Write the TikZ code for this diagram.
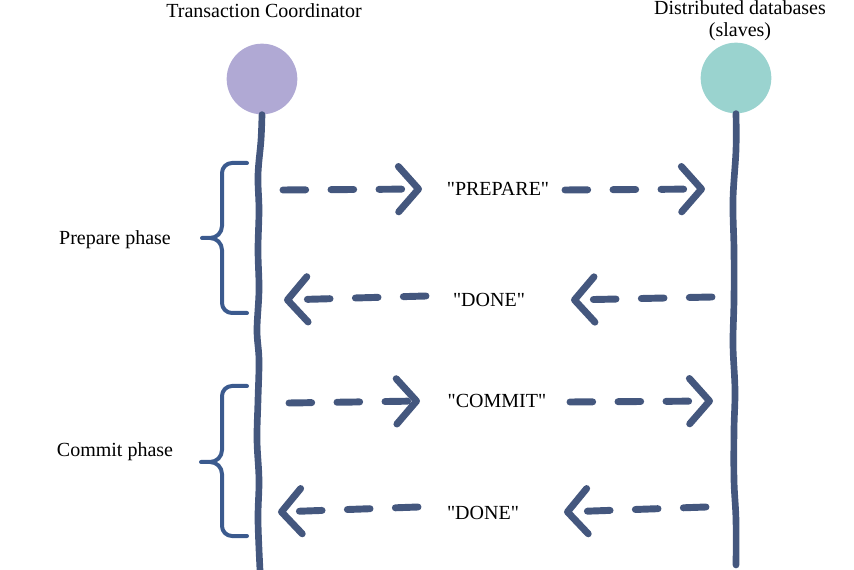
\documentclass[tikz,border=0pt]{standalone}
\usepackage{fontspec}
\setmainfont{Liberation Serif}[Ligatures=TeXOff]
\usetikzlibrary{arrows.meta}
\definecolor{tccol}{HTML}{B0A9D4}
\definecolor{dbcol}{HTML}{9AD3CF}
\definecolor{linecol}{HTML}{44577E}
\definecolor{bracecol}{HTML}{3B5A8E}
\begin{document}
\begin{tikzpicture}[x=0.75pt,y=-0.75pt,
  lbl/.style={font=\fontsize{15}{16.5}\selectfont, inner sep=0pt, text=black},
  actor/.style={circle, minimum size=53pt, inner sep=0pt},
  lifeline/.style={draw=linecol, line width=5pt, line cap=round, line join=round},
  msg/.style={draw=linecol, line width=5.2pt, line cap=round, dash pattern=on 17pt off 19pt,
    -{Straight Barb[length=15pt,width=34pt,round]}},
  brace/.style={draw=bracecol, line width=3pt, line cap=round, line join=round}]
\useasboundingbox (0,0) rectangle (854,570);

% actors
\node[actor, fill=tccol] (tc) at (262,79) {};
\node[actor, fill=dbcol] (db) at (736,78) {};
\node[lbl] (tctitle) at (264,11) {Transaction Coordinator};
\node[lbl, align=center] (dbtitle) at (740,21) {Distributed databases\\(slaves)};

% lifelines
\coordinate (tcend) at (260,570);
\coordinate (dbend) at (736,565);
\draw[lifeline] plot[smooth, tension=0.6] coordinates {(tc.south) (261,140) (258,175) (259,210) (258,250) (259,290) (257,330) (259,360) (258,400) (257,440) (259,480) (258,520) (tcend)};
\draw[lifeline] plot[smooth, tension=0.6] coordinates {(db.south) (736,150) (733,200) (734,250) (734,300) (733,345) (735,390) (734,430) (734,480) (736,520) (dbend)};

% messages
\node[lbl] (m1) at (498,189) {"PREPARE"};
\node[lbl] (m2) at (489,300) {"DONE"};
\node[lbl] (m3) at (497,401) {"COMMIT"};
\node[lbl] (m4) at (483,513) {"DONE"};

\coordinate (m1a) at (283,190); \coordinate (m1b) at (422,189);
\coordinate (m1c) at (565,190); \coordinate (m1d) at (705,189);
\coordinate (m2a) at (712,297); \coordinate (m2b) at (571,300);
\coordinate (m2c) at (426,296); \coordinate (m2d) at (284,300);
\coordinate (m3a) at (289,403); \coordinate (m3b) at (420,401);
\coordinate (m3c) at (570,402); \coordinate (m3d) at (713,401);
\coordinate (m4a) at (706,507); \coordinate (m4b) at (564,512);
\coordinate (m4c) at (418,507); \coordinate (m4d) at (278,512);

\draw[msg] (m1a) -- (m1b);
\draw[msg] (m1c) -- (m1d);
\draw[msg] (m2a) -- (m2b);
\draw[msg] (m2c) -- (m2d);
\draw[msg] (m3a) -- (m3b);
\draw[msg] (m3c) -- (m3d);
\draw[msg] (m4a) -- (m4b);
\draw[msg] (m4c) -- (m4d);

% phases
\node[lbl] (pp) at (115,240) {Prepare phase};
\node[lbl] (cp) at (115,452) {Commit phase};
\draw[brace] (247,163) -- (232,163) to[out=180,in=90] (222,173) -- (222,226)
  to[out=-90,in=0] (210,238) -- (202,238) -- (210,238)
  to[out=0,in=90] (222,250) -- (222,303) to[out=-90,in=180] (232,313) -- (247,313);
\draw[brace] (247,386) -- (232,386) to[out=180,in=90] (222,396) -- (222,450)
  to[out=-90,in=0] (210,462) -- (201,462) -- (210,462)
  to[out=0,in=90] (222,474) -- (222,526) to[out=-90,in=180] (232,536) -- (247,536);
\end{tikzpicture}
\end{document}
